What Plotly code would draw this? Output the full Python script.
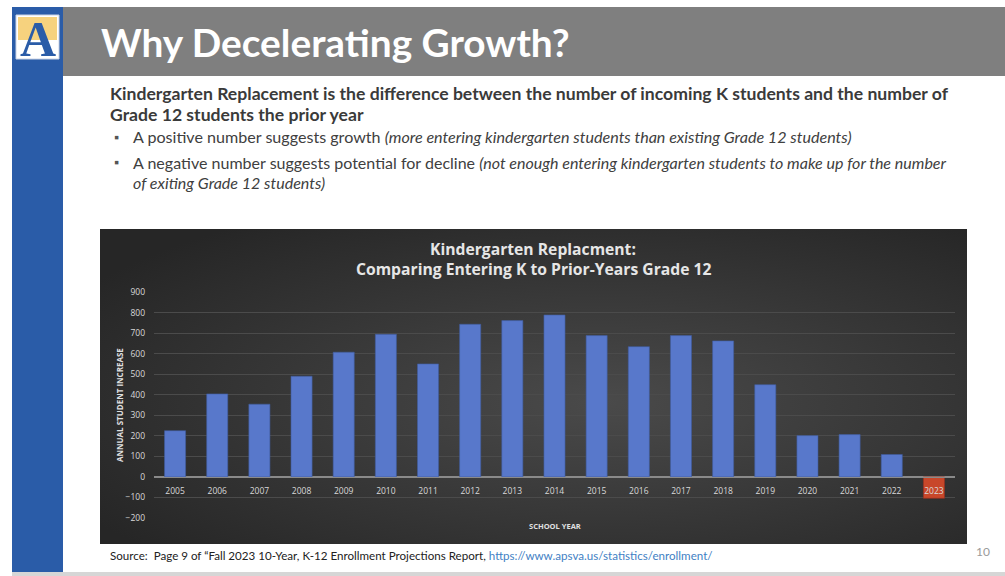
import base64
import plotly.graph_objects as go

# ---------------- data ----------------
years = ["2005", "2006", "2007", "2008", "2009", "2010", "2011", "2012", "2013", "2014",
         "2015", "2016", "2017", "2018", "2019", "2020", "2021", "2022", "2023"]
replacement = [225, 404, 354, 490, 607, 694, 550, 743, 761, 788,
               688, 634, 688, 662, 449, 201, 206, 109, -104]
y_ticks = [-200, -100, 0, 100, 200, 300, 400, 500, 600, 700, 800, 900]

slide_title = "Why Decelerating Growth?"
lead_lines = ["Kindergarten Replacement is the difference between the number of incoming K students and the number of",
              "Grade 12 students the prior year"]
bullet1 = "A positive number suggests growth <i>(more entering kindergarten students than existing Grade 12 students)</i>"
bullet2a = "A negative number suggests potential for decline <i>(not enough entering kindergarten students to make up for the number</i>"
bullet2b = "<i>of exiting Grade 12 students)</i>"
chart_title = ["Kindergarten Replacment:", "Comparing Entering K to Prior-Years Grade 12"]
y_title = "ANNUAL STUDENT INCREASE"
x_title = "SCHOOL YEAR"
source_txt = "Source:  Page 9 of “Fall 2023 10-Year, K-12 Enrollment Projections Report, "
source_url = "https://www.apsva.us/statistics/enrollment/"
page_no = "10"

# ---------------- geometry helpers (pixel -> paper) ----------------
FW, FH = 1005, 576
L, R, T, B = 154, 955, 292, 518
W, H = R - L, B - T


def px(x):
    return (x - L) / W


def py(y):
    return (B - y) / H


bar_colors = ["#5878cb"] * (len(years) - 1) + ["#c8472a"]
line_colors = ["#3f5c9e"] * (len(years) - 1) + ["#9c2f1f"]

fig = go.Figure()
fig.add_trace(go.Bar(
    x=years, y=replacement,
    marker=dict(color=bar_colors, line=dict(color=line_colors, width=0.6)),
    width=0.5, hoverinfo="x+y",
))

# background gradient for the dark chart box
bx0, by0, bx1, by1 = 100, 229, 967, 544
svg = ('<svg xmlns="http://www.w3.org/2000/svg" width="%d" height="%d">'
       '<defs><radialGradient id="g" cx="58%%" cy="55%%" r="70%%">'
       '<stop offset="0" stop-color="#4a4a4a"/><stop offset="1" stop-color="#262626"/>'
       '</radialGradient></defs><rect width="100%%" height="100%%" fill="url(#g)"/></svg>') % (bx1 - bx0, by1 - by0)
src = "data:image/svg+xml;base64," + base64.b64encode(svg.encode()).decode()

fig.update_layout(
    width=FW, height=FH,
    margin=dict(l=L, r=FW - R, t=T, b=FH - B),
    paper_bgcolor="white",
    plot_bgcolor="rgba(0,0,0,0)",
    showlegend=False,
    bargap=0.5,
    images=[dict(source=src, xref="paper", yref="paper", x=px(bx0), y=py(by0),
                 sizex=(bx1 - bx0) / W, sizey=(by1 - by0) / H, sizing="stretch",
                 xanchor="left", yanchor="top", layer="below")],
    xaxis=dict(
        type="category", range=[-0.5, len(years) - 0.5],
        anchor="free", position=200 / 1100,
        showline=True, linecolor="#8a8a8a", linewidth=1,
        showgrid=False, ticks="", ticklabelstandoff=6,
        tickfont=dict(family="Open Sans", size=8.5, color="#d9d9d9"),
    ),
    yaxis=dict(
        range=[-200, 900], tickvals=y_ticks, domain=[0, 1],
        showgrid=True, gridcolor="#4b4b4b", gridwidth=1,
        zeroline=True, zerolinecolor="#8a8a8a", zerolinewidth=1,
        ticks="", ticklabelstandoff=8,
        tickfont=dict(family="Open Sans", size=8.5, color="#d9d9d9"),
    ),
)

shapes = []
# blue left stripe
shapes.append(dict(type="rect", xref="paper", yref="paper", x0=px(12), x1=px(63), y0=py(573), y1=py(7),
                   fillcolor="#2a5ca8", line=dict(width=0), layer="below"))
# grey title bar
shapes.append(dict(type="rect", xref="paper", yref="paper", x0=px(63), x1=px(1005), y0=py(76), y1=py(7),
                   fillcolor="#7f7f7f", line=dict(width=0), layer="below"))
# bottom light strip
shapes.append(dict(type="rect", xref="paper", yref="paper", x0=px(12), x1=px(1005), y0=py(576), y1=py(572),
                   fillcolor="#d6d6d6", line=dict(width=0), layer="below"))
# logo
shapes.append(dict(type="rect", xref="paper", yref="paper", x0=px(16), x1=px(59), y0=py(59), y1=py(15),
                   fillcolor="white", line=dict(color="#c9d3e6", width=1)))
shapes.append(dict(type="rect", xref="paper", yref="paper", x0=px(18), x1=px(57), y0=py(40), y1=py(17),
                   fillcolor="#f6d27e", line=dict(width=0)))
fig.update_layout(shapes=shapes)

ann = []


def add_text(text, x, y, size, color, family="Lato", bold=False, xanchor="left", angle=0):
    t = "<b>%s</b>" % text if bold else text
    ann.append(dict(text=t, x=px(x), y=py(y), xref="paper", yref="paper", showarrow=False,
                    xanchor=xanchor, yanchor="middle", textangle=angle,
                    font=dict(family=family, size=size, color=color)))


add_text("A", 37.5, 39, 50, "#2a5ca8", family="Liberation Serif", bold=True, xanchor="center")
add_text(slide_title, 99, 42, 38.8, "white", bold=True)
add_text(lead_lines[0], 108, 93, 17.6, "#3a3a3a", bold=True)
add_text(lead_lines[1], 108, 114, 17.6, "#3a3a3a", bold=True)
add_text("▪", 112, 137, 13, "#555555")
add_text(bullet1, 131, 137, 16.1, "#404040")
add_text("▪", 112, 162, 13, "#555555")
add_text(bullet2a, 131, 162, 16.05, "#404040")
add_text(bullet2b, 131, 182, 16.05, "#404040")
add_text(chart_title[0], 533, 249, 15.7, "#e6e6e6", family="Open Sans", bold=True, xanchor="center")
add_text(chart_title[1], 533, 269, 15.7, "#e6e6e6", family="Open Sans", bold=True, xanchor="center")
add_text(y_title, 119, 405, 8, "#e0e0e0", family="Open Sans", bold=True, xanchor="center", angle=-90)
add_text(x_title, 555, 526, 7.5, "#e0e0e0", family="Open Sans", bold=True, xanchor="center")
add_text(source_txt + '<span style="color:#3f7fc4">' + source_url + "</span>", 108, 555, 11.6, "#222222")
add_text(page_no, 992, 551, 12, "#9a9a9a", xanchor="right")
fig.update_layout(annotations=ann)

fig.write_html("out.html", config={"displayModeBar": False},
               post_script="document.body.style.margin='0';")
